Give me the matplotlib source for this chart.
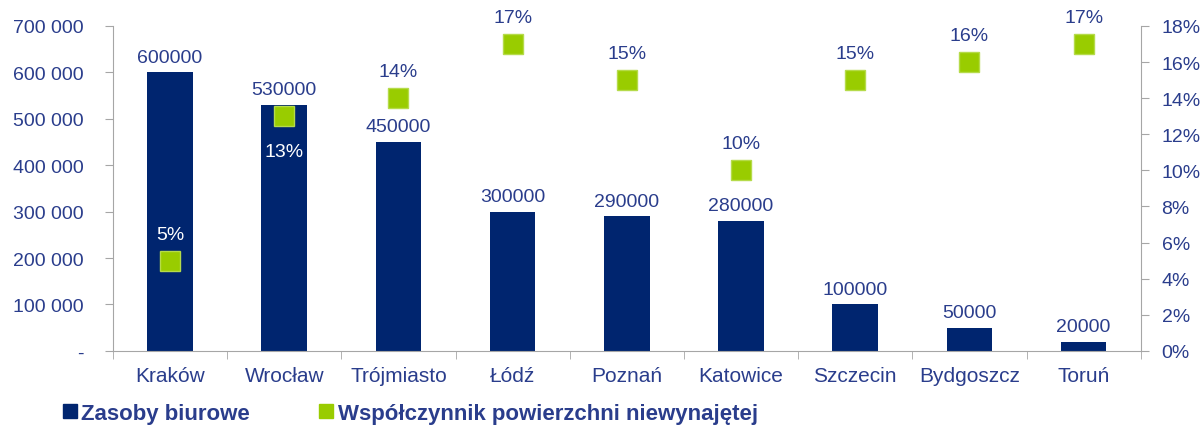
import matplotlib
matplotlib.use("Agg")
import matplotlib.pyplot as plt
from matplotlib.ticker import FuncFormatter, FixedLocator
from matplotlib.lines import Line2D

plt.rcParams["font.family"] = ["Liberation Sans", "DejaVu Sans"]

cities = ["Kraków", "Wrocław", "Trójmiasto", "Łódź", "Poznań",
          "Katowice", "Szczecin", "Bydgoszcz", "Toruń"]
stock = [600000, 530000, 450000, 300000, 290000, 280000, 100000, 50000, 20000]
vacancy = [5, 13, 14, 17, 15, 10, 15, 16, 17]

NAVY = "#00256F"
GREEN = "#99CC00"
TXT = "#2A3D8C"
GRID = "#A6A6A6"

fig = plt.figure(figsize=(12.02, 4.27), dpi=100)
ax = fig.add_axes([0.094, 0.176, 0.855, 0.761])
x = list(range(len(cities)))
ax.bar(x, stock, width=0.4, color=NAVY, zorder=2)
ax.set_xlim(-0.5, len(cities) - 0.5)
ax.set_ylim(0, 700000)
ax.set_yticks(range(0, 700001, 100000))
ax.yaxis.set_major_formatter(FuncFormatter(
    lambda v, p: "-" if v == 0 else f"{int(v):,}".replace(",", " ")))
ax.set_xticks(x)
ax.set_xticklabels(cities)
ax.xaxis.set_minor_locator(FixedLocator([i - 0.5 for i in range(len(cities) + 1)]))
ax.tick_params(axis="x", which="major", length=0, pad=11, labelsize=15, labelcolor=TXT)
ax.tick_params(axis="x", which="minor", length=6, color=GRID, direction="out")
ax.tick_params(axis="y", length=6, color=GRID, labelsize=14, labelcolor=TXT, pad=15)
for s in ["top", "right"]:
    ax.spines[s].set_visible(False)
for s in ["left", "bottom"]:
    ax.spines[s].set_color(GRID)

for i, v in enumerate(stock):
    ax.text(i, v + 14000, str(v), ha="center", va="bottom", fontsize=14, color=TXT)

ax2 = ax.twinx()
ax2.set_ylim(0, 18)
ax2.set_yticks(range(0, 19, 2))
ax2.yaxis.set_major_formatter(FuncFormatter(lambda v, p: f"{int(v)}%"))
ax2.tick_params(axis="y", length=6, color=GRID, labelsize=14, labelcolor=TXT, pad=9)
for s in ["top", "left", "bottom"]:
    ax2.spines[s].set_visible(False)
ax2.spines["right"].set_color(GRID)
ax2.plot(x, vacancy, linestyle="none", marker="s", markersize=15,
         color=GREEN, markeredgecolor="#B5DB4A", zorder=3)

for i, v in enumerate(vacancy):
    inside = stock[i] / 700000 * 18 > v
    col = "white" if inside else TXT
    if i == 1:
        ax2.text(i, v - 1.5, f"{v}%", ha="center", va="top", fontsize=14, color=col)
    else:
        ax2.text(i, v + 1.0, f"{v}%", ha="center", va="bottom", fontsize=14, color=col)

handles = [Line2D([], [], linestyle="none", marker="s", markersize=10, color=NAVY),
           Line2D([], [], linestyle="none", marker="s", markersize=10, color=GREEN)]
fig.legend(handles, ["Zasoby biurowe", "Współczynnik powierzchni niewynajętej"],
           loc="lower left", bbox_to_anchor=(0.023, -0.042), ncol=2, frameon=False,
           handletextpad=-0.5, columnspacing=2.45, labelcolor=TXT,
           prop={"size": 16, "weight": "bold"})

fig.savefig("out.png", dpi=100)
